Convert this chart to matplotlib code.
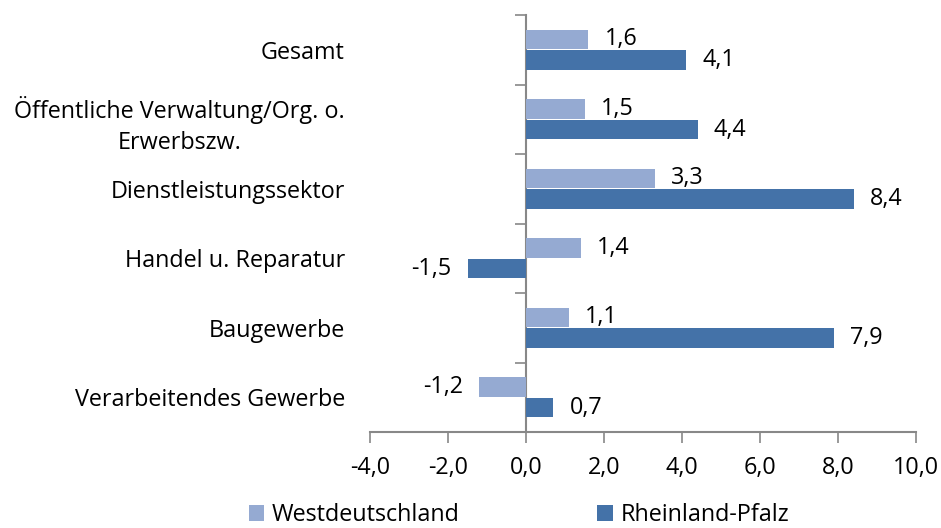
import numpy as np
import matplotlib.pyplot as plt
from matplotlib.ticker import FuncFormatter

# --- DATA ---
categories = ["Verarbeitendes Gewerbe", "Baugewerbe", "Handel u. Reparatur",
              "Dienstleistungssektor", "Öffentliche Verwaltung/Org. o.\nErwerbszw.",
              "Gesamt"]
west = [-1.2, 1.1, 1.4, 3.3, 1.5, 1.6]
rlp = [0.7, 7.9, -1.5, 8.4, 4.4, 4.1]
series_names = ["Westdeutschland", "Rheinland-Pfalz"]

# --- STYLE ---
LIGHT = "#95AAD2"
DARK = "#4472A8"
AXIS_GRAY = "#888888"
FS = 16.8

plt.rcParams['font.family'] = ['Open Sans', 'DejaVu Sans']
plt.rcParams['axes.unicode_minus'] = False


def de_fmt(v):
    return f"{v:.1f}".replace('.', ',')


fig = plt.figure(figsize=(9.41, 5.28), dpi=100)
ax = fig.add_axes([370 / 941, 96 / 528, 546 / 941, 417 / 528])

y = np.arange(len(categories))
h = 0.28
off = 0.15
ax.barh(y + off, west, height=h, color=LIGHT, label=series_names[0])
ax.barh(y - off, rlp, height=h, color=DARK, label=series_names[1])

# value labels
pad = 0.42
for yi, v in zip(y + off, west):
    ax.text(v + pad if v >= 0 else v - pad, yi, de_fmt(v), fontsize=FS,
            ha='left' if v >= 0 else 'right', va='center')
for yi, v in zip(y - off, rlp):
    ax.text(v + pad if v >= 0 else v - pad, yi, de_fmt(v), fontsize=FS,
            ha='left' if v >= 0 else 'right', va='center')

ax.set_xlim(-4, 10)
ax.set_ylim(-0.5, len(categories) - 0.5)
ax.set_xticks(np.arange(-4, 10.1, 2))
ax.xaxis.set_major_formatter(FuncFormatter(lambda v, p: de_fmt(v)))
ax.tick_params(axis='x', direction='out', length=8, width=1.2, color=AXIS_GRAY,
               labelsize=FS, pad=9)

# category labels at the left, no tick marks
ax.set_yticks(y)
ax.set_yticklabels(categories, fontsize=FS, multialignment='center',
                   linespacing=1.35)
ax.tick_params(axis='y', length=0, pad=18)

for s in ['top', 'right', 'left']:
    ax.spines[s].set_visible(False)
ax.spines['bottom'].set_color(AXIS_GRAY)
ax.spines['bottom'].set_linewidth(1.5)

# vertical axis at x = 0 with boundary ticks
sec = ax.secondary_yaxis(4 / 14)
sec.set_yticks(np.arange(-0.5, len(categories), 1.0))
sec.set_yticklabels([])
sec.tick_params(direction='out', length=8, width=1.2, color=AXIS_GRAY)
sec.spines['left'].set_color(AXIS_GRAY)
sec.spines['left'].set_linewidth(1.5)

fig.legend(loc='center', bbox_to_anchor=(519 / 941, 1 - 515 / 528), ncol=2,
           frameon=False, fontsize=FS, handlelength=0.65, handleheight=0.65,
           handletextpad=0.35, columnspacing=5.9)

fig.savefig("out.png", dpi=100)
